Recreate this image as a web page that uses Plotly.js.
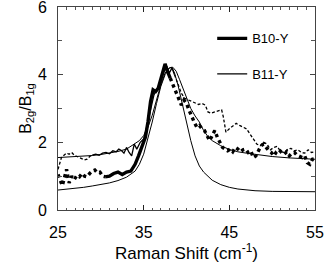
<!DOCTYPE html>
<html>
<head>
<meta charset="utf-8">
<script src="https://cdn.plot.ly/plotly-3.0.1.min.js"></script>
<style>html,body{margin:0;padding:0;background:#fff;}#chart{width:327px;height:263px;}</style>
</head>
<body>
<div id="chart"></div>
<script>
// B10-Y measured data (thick)
const b10LowX = [25.0,25.25,25.5,25.75,26.0,26.3,26.6,26.9,27.2,27.5,27.8,28.1,28.4,28.7,29.0,29.3,29.6,29.9,30.2,30.5];
const b10LowY = [1.05,0.85,0.72,0.95,1.2,0.8,1.0,0.9,1.02,0.98,1.08,1.0,0.98,1.08,1.15,1.18,1.1,1.12,1.0,0.98];
const b10MidX = [30.5,31.0,31.5,32.0,32.5,33.0,33.5,34.0,34.4,34.8,35.2,35.5,35.8,36.1,36.4,36.7,37.0,37.3,37.5,37.7,37.9,38.1];
const b10MidY = [0.98,1.0,1.08,1.12,1.05,1.12,1.15,1.35,1.6,1.9,2.15,2.6,3.2,3.55,3.5,3.6,3.9,4.2,4.32,4.15,4.0,3.9];
const b10HighX = [38.1,38.4,38.8,39.1,39.4,39.7,40.0,40.3,40.6,40.9,41.2,41.5,41.8,42.1,42.4,42.7,43.0,43.3,43.6,43.9,44.2,44.5,44.8,45.1,45.4,45.7,46.0,46.3,46.6,46.9,47.2,47.5,47.8,48.1,48.4,48.7,49.0,49.3,49.6,49.9,50.2,50.5,50.8,51.1,51.4,51.7,52.0,52.3,52.6,52.9,53.2,53.5,53.8,54.1,54.4,54.7,55.0];
const b10HighY = [3.9,3.7,3.5,3.3,3.1,3.25,3.15,2.95,2.75,2.6,2.45,2.5,2.4,2.35,2.2,2.05,2.2,2.35,2.15,2.0,1.85,1.8,1.75,1.8,1.72,1.85,1.8,1.72,1.78,1.8,1.7,1.75,1.55,1.6,1.78,1.9,1.95,1.85,1.75,1.7,1.6,1.72,1.78,1.7,1.65,1.72,1.6,1.68,1.7,1.62,1.58,1.55,1.6,1.4,1.35,1.5,1.52];

// B11-Y measured data (thin)
const b11LowX = [25.0,25.2,25.4,25.7,26.0,26.3,26.6,26.9,27.2,27.5,27.8,28.1,28.4,28.7,29.0];
const b11LowY = [1.2,1.35,1.55,1.62,1.68,1.65,1.7,1.62,1.58,1.55,1.5,1.48,1.5,1.58,1.62];
const b11MidX = [29.0,29.4,29.8,30.2,30.6,31.0,31.4,31.8,32.1,32.4,32.7,33.0,33.3,33.6,33.9,34.2,34.6,35.0,35.4,35.8,36.2,36.6,37.0,37.4,37.7,38.0,38.3,38.6];
const b11MidY = [1.62,1.65,1.62,1.68,1.7,1.66,1.75,1.72,1.8,1.76,1.68,1.85,1.7,1.6,1.95,1.8,2.0,2.1,2.5,3.0,3.4,3.6,3.8,4.1,4.25,4.05,4.2,4.0];
const b11HighX = [38.6,39.0,39.4,39.8,40.2,40.6,41.0,41.4,41.8,42.2,42.5,42.9,43.3,43.7,44.1,44.3,44.6,45.0,45.4,45.8,46.2,46.6,47.0,47.4,47.8,48.2,48.6,49.0,49.4,49.8,50.2,50.6,51.0,51.4,51.8,52.2,52.6,53.0,53.4,53.8,54.2,54.6,55.0];
const b11HighY = [4.0,3.7,3.45,3.3,3.25,3.2,3.15,3.12,3.15,3.1,2.9,2.86,2.9,2.92,2.96,2.75,2.3,2.4,2.48,2.56,2.5,2.45,2.4,2.25,2.1,1.95,1.9,2.0,1.95,1.78,1.85,1.88,1.72,1.7,1.8,1.82,1.75,1.78,1.7,1.68,1.78,1.7,1.72];

// Fit curves (thin solid)
const fitLowX = [25,26,27,28,29,30,31,32,33,34,34.5,35,35.5,36,36.5,37,37.5,38,38.3,38.6,39,39.5,40,40.5,41,41.5,42,43,44,45,46,47,48,50,52,55];
const fitLowY = [0.59,0.61,0.64,0.67,0.71,0.75,0.8,0.87,0.97,1.15,1.35,1.65,2.1,2.6,3.15,3.65,4.0,4.2,4.22,4.05,3.7,3.15,2.6,2.05,1.6,1.3,1.12,0.88,0.75,0.67,0.62,0.59,0.57,0.55,0.54,0.54];
const fitHighX = [25,26,27,28,29,30,31,32,33,34,34.5,35,35.5,36,36.5,37,37.5,38,38.4,38.8,39.2,39.6,40,40.5,41,41.5,42,42.5,43,44,45,46,47,48,50,52,55];
const fitHighY = [1.55,1.56,1.57,1.59,1.61,1.64,1.68,1.73,1.8,1.95,2.05,2.2,2.45,2.8,3.25,3.7,4.05,4.2,4.22,4.1,3.85,3.6,3.35,3.0,2.78,2.6,2.35,2.17,2.05,1.9,1.79,1.72,1.68,1.64,1.58,1.54,1.5];

// Axis ticks
const xTickVals = [25,35,45,55];
const yTickVals = [0,2,4,6];

const K = '#000';
const traces = [
  {x: fitLowX, y: fitLowY, mode:'lines', line:{color:K, width:1}, showlegend:false, hoverinfo:'skip'},
  {x: fitHighX, y: fitHighY, mode:'lines', line:{color:K, width:1}, showlegend:false, hoverinfo:'skip'},
  {x: b11LowX, y: b11LowY, mode:'lines', line:{color:K, width:1.3, dash:'3px,2px'}, showlegend:false},
  {x: b11MidX, y: b11MidY, mode:'lines', line:{color:K, width:1.3}, name:'B11-Y', legend:'legend2'},
  {x: b11HighX, y: b11HighY, mode:'lines', line:{color:K, width:1.3, dash:'3px,2px'}, showlegend:false},
  {x: b10LowX, y: b10LowY, mode:'lines', line:{color:K, width:3.4, dash:'dot'}, showlegend:false},
  {x: b10MidX, y: b10MidY, mode:'lines', line:{color:K, width:3.4}, name:'B10-Y', legend:'legend'},
  {x: b10HighX, y: b10HighY, mode:'lines', line:{color:K, width:3.4, dash:'dot'}, showlegend:false}
];

const font = {family:'"Liberation Sans", Arial, Helvetica, sans-serif', size:16, color:'#000'};
const layout = {
  width:327, height:263,
  margin:{l:58, r:12, t:7, b:53},
  paper_bgcolor:'#fff', plot_bgcolor:'#fff',
  font: font,
  xaxis:{
    range:[25,55], tickvals:xTickVals,
    ticks:'inside', ticklen:5, tickcolor:'#222', tickwidth:1,
    minor:{dtick:1, ticks:'inside', ticklen:2.5, tickcolor:'#555', tickwidth:1},
    showline:true, linecolor:'#444', linewidth:1, mirror:'ticks',
    showgrid:false, zeroline:false,
    tickfont:{size:16}, ticklabelstandoff:8, ticklabeloverflow:'allow',
    title:{text:'Raman Shift (cm<sup>-1</sup>)', font:{size:17}, standoff:9}
  },
  yaxis:{
    range:[0,6], tickvals:yTickVals,
    ticks:'inside', ticklen:5, tickcolor:'#444', tickwidth:1,
    minor:{dtick:1, ticks:'inside', ticklen:4, tickcolor:'#555', tickwidth:1},
    showline:true, linecolor:'#444', linewidth:1, mirror:'ticks',
    showgrid:false, zeroline:false,
    tickfont:{size:16}, ticklabelstandoff:7, ticklabeloverflow:'allow',
    title:{text:'B<sub>2g</sub>/B<sub>1g</sub>', font:{size:16}, standoff:2}
  },
  legend:{x:0.6, y:0.845, xanchor:'left', yanchor:'middle', bgcolor:'rgba(0,0,0,0)', font:{size:13}},
  legend2:{x:0.6, y:0.67, xanchor:'left', yanchor:'middle', bgcolor:'rgba(0,0,0,0)', font:{size:13}},
  showlegend:true
};

Plotly.newPlot('chart', traces, layout, {staticPlot:true, displayModeBar:false});
</script>
</body>
</html>
